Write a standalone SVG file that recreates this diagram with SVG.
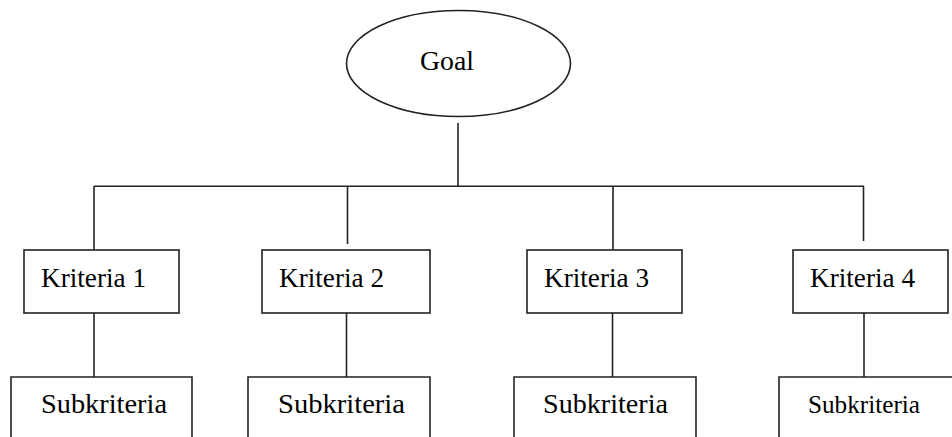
<svg xmlns="http://www.w3.org/2000/svg" width="952" height="437" viewBox="0 0 952 437">
<style>
.box{fill:#fff;stroke:#222;stroke-width:1.6}
.ln{stroke:#222;stroke-width:1.6;fill:none}
.t{font-family:"Liberation Serif","Times New Roman",serif;font-size:28px;fill:#000}
</style>
<rect width="952" height="437" fill="#fff"/>
<g id="connectors">
<line class="ln" x1="458" y1="123" x2="458" y2="186"/>
<line class="ln" x1="94" y1="186.3" x2="864" y2="186.3"/>
<line class="ln" x1="94" y1="186" x2="94" y2="250"/>
<line class="ln" x1="347.5" y1="186" x2="347.5" y2="244"/>
<line class="ln" x1="613" y1="186" x2="613" y2="250"/>
<line class="ln" x1="863.5" y1="186" x2="863.5" y2="241"/>
<line class="ln" x1="94" y1="313" x2="94" y2="377"/>
<line class="ln" x1="346.5" y1="313" x2="346.5" y2="377"/>
<line class="ln" x1="612.5" y1="313" x2="612.5" y2="377"/>
<line class="ln" x1="864" y1="313" x2="864" y2="377"/>
</g>
<g id="goal">
<ellipse class="box" cx="458.5" cy="63.5" rx="112" ry="53"/>
<text class="t" x="420" y="70" style="font-size:27px" textLength="54" lengthAdjust="spacingAndGlyphs">Goal</text>
</g>
<g id="kriteria1">
<rect class="box" x="24" y="250" width="155" height="63"/>
<text class="t" x="41" y="287" textLength="105" lengthAdjust="spacingAndGlyphs">Kriteria 1</text>
</g>
<g id="kriteria2">
<rect class="box" x="262" y="250" width="168" height="63"/>
<text class="t" x="279" y="287" textLength="105" lengthAdjust="spacingAndGlyphs">Kriteria 2</text>
</g>
<g id="kriteria3">
<rect class="box" x="527" y="250" width="155" height="63"/>
<text class="t" x="544" y="287" textLength="105" lengthAdjust="spacingAndGlyphs">Kriteria 3</text>
</g>
<g id="kriteria4">
<rect class="box" x="793" y="250" width="155" height="63"/>
<text class="t" x="810" y="287" textLength="105" lengthAdjust="spacingAndGlyphs">Kriteria 4</text>
</g>
<g id="sub1">
<path class="ln" d="M11,440 V377 H192 V440"/>
<text class="t" x="41" y="413" textLength="126" lengthAdjust="spacingAndGlyphs">Subkriteria</text>
</g>
<g id="sub2">
<path class="ln" d="M248,440 V377 H430 V440"/>
<text class="t" x="278" y="413" textLength="127" lengthAdjust="spacingAndGlyphs">Subkriteria</text>
</g>
<g id="sub3">
<path class="ln" d="M514,440 V377 H696 V440"/>
<text class="t" x="543" y="413" textLength="125" lengthAdjust="spacingAndGlyphs">Subkriteria</text>
</g>
<g id="sub4">
<path class="ln" d="M779,440 V377 H955"/>
<text class="t" x="808" y="413" style="font-size:26px" textLength="112" lengthAdjust="spacingAndGlyphs">Subkriteria</text>
</g>
</svg>
